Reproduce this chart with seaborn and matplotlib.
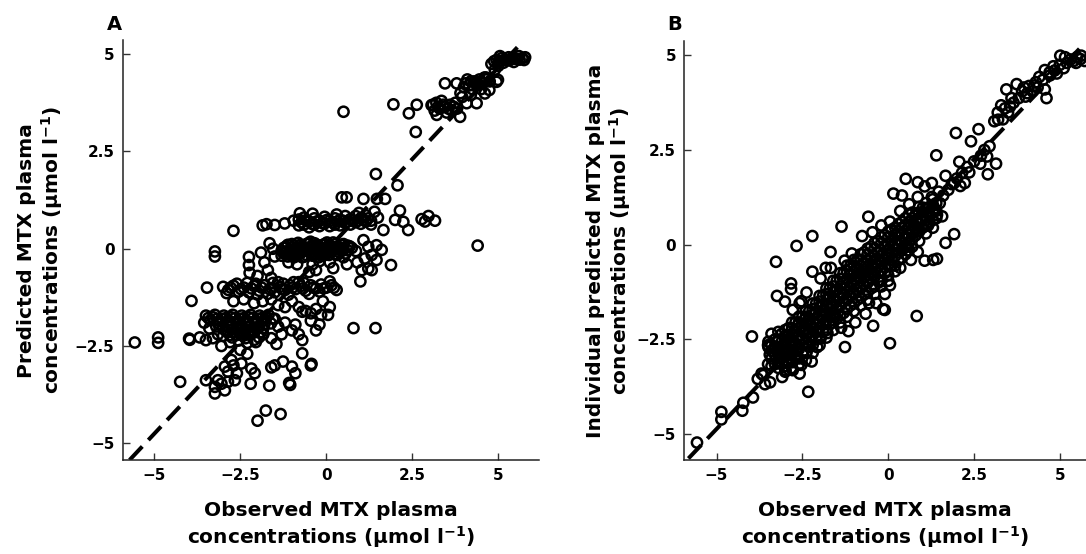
"""
Observed vs predicted MTX plasma concentrations (panels A and B).
"""

import numpy as np
import pandas as pd
import matplotlib
matplotlib.use("Agg")
import matplotlib.pyplot as plt
import seaborn as sns

# ── Data ────────────────────────────────────────────────────────────────────
TICKS = [-5, -2.5, 0, 2.5, 5]
TICK_LABELS = ["\u22125", "\u22122.5", "0", "2.5", "5"]

# panel A: population predictions
A_SCATTER = [(-5.57, -2.41), (-4.89, -2.28), (-4.89, -2.42), (-4.25, -3.42), (-3.99, -2.31),
             (-3.92, -1.34), (-3.47, -1.00), (-3.24, -0.07), (-3.24, -0.20), (-2.70, 0.46),
             (-2.00, -4.42), (-1.76, -4.16), (-1.33, -4.25), (-1.66, -3.52), (-1.08, -3.45),
             (-0.70, -2.69), (-0.43, -2.96), (0.79, -2.04), (1.43, -2.04), (0.50, 3.52),
             (1.95, 3.71), (2.40, 3.48), (2.63, 3.70), (2.60, 3.00), (1.44, 1.92),
             (2.07, 1.63), (4.40, 0.08), (1.88, -0.42), (0.99, -0.84)]
A_MID_RIGHT = [(0.45, 1.32), (0.59, 1.32), (1.08, 1.28), (1.47, 1.28), (1.71, 1.28),
               (2.14, 0.98), (2.00, 0.74), (2.24, 0.69), (2.38, 0.48), (1.66, 0.48),
               (2.77, 0.76), (2.97, 0.84), (3.16, 0.72), (2.87, 0.70), (1.50, 0.80), (1.40, 0.95)]
A_BAND_07 = [(-1.74, 0.63), (-1.50, 0.61), (-1.21, 0.65), (-0.77, 0.91), (-0.95, 0.72), (-1.85, 0.60),
             (-0.80, 0.60), (-0.80, 0.75), (-0.65, 0.62), (-0.65, 0.80), (-0.50, 0.55), (-0.50, 0.70),
             (-0.35, 0.62), (-0.35, 0.78), (-0.20, 0.58), (-0.20, 0.72), (-0.05, 0.65), (-0.05, 0.82),
             (0.10, 0.58), (0.10, 0.72), (0.25, 0.62), (0.25, 0.78), (0.40, 0.60), (0.40, 0.74),
             (0.55, 0.66), (0.55, 0.84), (0.70, 0.62), (0.70, 0.76), (0.85, 0.68), (0.85, 0.84),
             (1.00, 0.64), (1.00, 0.78), (1.15, 0.70), (1.15, 0.86), (1.30, 0.72), (1.30, 0.62),
             (0.95, 0.92), (0.30, 0.88), (-0.40, 0.90)]
A_FILL_07 = [(-0.72, 0.68), (-0.58, 0.72), (-0.42, 0.64), (-0.28, 0.70), (-0.12, 0.66), (0.02, 0.74),
             (0.18, 0.68), (0.32, 0.70), (0.48, 0.72), (0.62, 0.70), (0.78, 0.72), (0.92, 0.72),
             (1.08, 0.74), (1.22, 0.78)]
A_BAND_00 = [(-1.30, -0.05), (-1.30, -0.18), (-1.18, 0.05), (-1.18, -0.10), (-1.06, -0.02),
             (-1.06, -0.16), (-0.94, 0.08), (-0.94, -0.08), (-0.94, -0.22), (-0.82, 0.00),
             (-0.82, 0.15), (-0.82, -0.14), (-0.70, 0.06), (-0.70, -0.08), (-0.70, -0.22),
             (-0.58, 0.12), (-0.58, -0.02), (-0.58, -0.16), (-0.46, 0.05), (-0.46, -0.10),
             (-0.46, 0.18), (-0.34, 0.00), (-0.34, -0.14), (-0.34, 0.14), (-0.22, 0.06),
             (-0.22, -0.08), (-0.22, -0.22), (-0.10, 0.10), (-0.10, -0.04), (-0.10, -0.18),
             (0.02, 0.02), (0.02, -0.12), (0.02, 0.16), (0.14, 0.06), (0.14, -0.08),
             (0.26, 0.00), (0.26, -0.14), (0.26, 0.12), (0.38, 0.04), (0.38, -0.10),
             (0.50, 0.00), (0.50, 0.12), (0.62, -0.04), (0.62, 0.08), (0.74, 0.02), (0.86, -0.06),
             (1.08, 0.22), (1.22, 0.05), (1.46, 0.09), (1.61, -0.03), (1.32, -0.16), (1.46, -0.29),
             (1.12, -0.25), (1.03, -0.55), (1.22, -0.51), (1.32, -0.55), (0.90, -0.35), (0.60, -0.40),
             (0.50, -0.22), (-2.25, -0.21), (-2.25, -0.42), (-2.23, -0.62), (-1.65, 0.14),
             (-1.90, -0.10), (-1.55, 0.00), (-1.50, -0.20), (-1.80, -0.35), (-2.00, -0.70),
             (-1.70, -0.55), (-1.60, -0.75), (-2.05, -0.90), (-0.40, -0.40), (-0.30, -0.55),
             (-0.20, -0.32), (-0.50, -0.60), (0.10, -0.35), (0.20, -0.50), (-0.85, -0.40), (-1.10, -0.35)]
A_FILL_00 = [(-1.24, -0.12), (-1.24, 0.02), (-1.12, -0.20), (-1.12, 0.10), (-1.00, -0.06), (-1.00, 0.12),
             (-0.88, -0.18), (-0.88, 0.02), (-0.76, -0.12), (-0.76, 0.10), (-0.64, -0.20), (-0.64, 0.02),
             (-0.52, -0.06), (-0.52, 0.14), (-0.40, -0.18), (-0.40, 0.06), (-0.28, -0.06), (-0.28, 0.10),
             (-0.16, -0.14), (-0.16, 0.02), (-0.04, -0.08), (-0.04, 0.12), (0.08, -0.16), (0.08, 0.10),
             (0.20, -0.04), (0.20, 0.16), (0.32, -0.16), (0.32, 0.06), (0.44, -0.06), (0.44, 0.10),
             (0.56, -0.12), (0.68, 0.06)]
A_BAND_10 = [(-3.00, -0.98), (-2.85, -1.06), (-2.70, -0.95), (-2.55, -1.10), (-2.40, -1.00),
             (-2.25, -1.12), (-2.10, -0.96), (-1.95, -1.08), (-1.80, -0.94), (-1.65, -1.04),
             (-1.50, -1.12), (-1.35, -0.98), (-1.20, -1.06), (-1.05, -0.94), (-0.90, -1.04),
             (-0.75, -0.96), (-0.60, -1.08), (-0.45, -0.94), (-0.30, -1.02), (-0.15, -0.92),
             (0.00, -1.00), (0.15, -0.94), (0.30, -1.06), (-2.90, -1.14), (-2.60, -0.90),
             (-2.30, -0.88), (-2.00, -1.18), (-1.70, -1.16), (-1.40, -0.86), (-1.10, -1.18),
             (-0.80, -0.86), (-0.50, -1.16), (-0.20, -1.10), (0.10, -0.84), (-1.55, -0.88),
             (-1.25, -0.90), (-0.95, -0.86), (-0.65, -0.88)]
A_FILL_10 = [(-2.78, -1.00), (-2.48, -1.04), (-2.18, -1.02), (-1.88, -1.00), (-1.58, -1.02),
             (-1.28, -1.04), (-0.98, -1.00), (-0.68, -1.02), (-0.38, -1.00), (-0.08, -1.02), (0.22, -1.00)]
A_BAND_15 = [(-1.60, -1.30), (-1.40, -1.45), (-1.20, -1.50), (-1.00, -1.35), (-0.80, -1.50),
             (-0.70, -1.62), (-0.60, -1.60), (-0.45, -1.66), (-0.30, -1.55), (-0.15, -1.70),
             (0.05, -1.70), (-0.20, -1.95), (-0.30, -2.10), (-0.45, -1.85), (0.10, -1.50),
             (-0.10, -1.35), (-2.40, -1.30), (-2.10, -1.40), (-1.85, -1.35), (-2.70, -1.35)]
A_BAND_20 = [(-3.50, -1.72), (-3.37, -1.84), (-3.24, -1.70), (-3.11, -1.86), (-2.98, -1.72),
             (-2.85, -1.84), (-2.72, -1.70), (-2.59, -1.86), (-2.46, -1.72), (-2.33, -1.84),
             (-2.20, -1.70), (-2.07, -1.86), (-1.94, -1.72), (-1.81, -1.84), (-1.68, -1.70),
             (-1.55, -1.80), (-3.43, -1.78), (-3.17, -1.80), (-2.91, -1.78), (-2.65, -1.78),
             (-2.39, -1.78), (-2.13, -1.78), (-1.87, -1.78), (-1.61, -1.92),
             (-3.00, -2.00), (-2.87, -2.14), (-2.74, -2.28), (-2.61, -2.02), (-2.48, -2.16),
             (-2.35, -2.30), (-2.22, -2.00), (-2.09, -2.14), (-1.96, -2.28), (-1.83, -2.04),
             (-3.00, -2.24), (-2.87, -1.98), (-2.74, -2.08), (-2.61, -2.22), (-2.48, -1.96),
             (-2.35, -2.08), (-2.22, -2.22), (-2.09, -2.34), (-1.96, -2.02), (-1.83, -2.20),
             (-2.55, -2.36), (-2.80, -2.40), (-2.30, -2.42), (-2.05, -2.40),
             (-3.97, -2.34), (-3.68, -2.28), (-3.50, -2.35), (-3.30, -2.30), (-3.15, -2.20),
             (-3.55, -1.90), (-3.40, -2.05), (-3.20, -2.00), (-1.50, -1.80), (-1.40, -2.00),
             (-1.30, -2.20), (-1.20, -1.90), (-1.00, -2.10), (-0.80, -2.20), (-0.70, -2.35),
             (-0.90, -1.95), (-1.60, -2.30), (-1.45, -2.45)]
A_FILL_20 = [(-3.30, -1.76), (-3.04, -1.80), (-2.78, -1.76), (-2.52, -1.80), (-2.26, -1.76),
             (-2.00, -1.80), (-1.74, -1.76), (-2.94, -2.10), (-2.68, -2.14), (-2.42, -2.24),
             (-2.16, -2.08), (-1.90, -2.14), (-2.80, -2.22), (-2.55, -2.06), (-2.28, -2.16),
             (-3.10, -1.94), (-2.84, -1.92), (-2.58, -1.94), (-2.32, -1.92), (-2.06, -1.94),
             (-1.80, -1.94)]
A_LOW = [(-2.76, -2.86), (-2.95, -3.03), (-2.86, -3.16), (-2.47, -2.95), (-2.18, -3.08),
         (-2.08, -3.20), (-3.15, -3.38), (-3.24, -3.55), (-3.05, -3.47), (-2.86, -3.42),
         (-2.66, -3.38), (-2.95, -3.64), (-3.24, -3.72), (-3.50, -3.38), (-2.20, -3.47),
         (-1.50, -3.00), (-1.26, -2.90), (-1.00, -3.03), (-0.90, -3.20), (-1.05, -3.50),
         (-0.45, -3.00), (-1.60, -3.05), (-2.50, -2.60), (-2.30, -2.70), (-3.05, -2.50),
         (-2.70, -3.00), (-2.60, -3.20)]
A_TOP = [(3.15, 3.55), (3.30, 3.60), (3.45, 3.65), (3.60, 3.70), (3.75, 3.75), (3.20, 3.75),
         (3.35, 3.80), (3.50, 3.50), (3.65, 3.55), (3.80, 3.60), (3.10, 3.70), (3.89, 3.39),
         (4.37, 3.74), (4.08, 3.74), (4.61, 3.99), (4.95, 4.29), (3.79, 4.25), (3.45, 4.25),
         (3.06, 3.69), (3.21, 3.44), (3.90, 4.00), (4.00, 4.15), (4.15, 4.20), (4.30, 4.30),
         (4.45, 4.35), (4.60, 4.40), (4.75, 4.30), (4.10, 4.35), (4.25, 4.10), (4.40, 4.20),
         (4.55, 4.25), (3.95, 3.90), (4.20, 3.95), (4.50, 4.10), (4.64, 4.40), (4.99, 4.34),
         (4.74, 4.08), (4.80, 4.75), (4.95, 4.85), (5.10, 4.90), (5.25, 4.85), (5.40, 4.90),
         (5.55, 4.88), (5.70, 4.90), (5.00, 4.70), (5.15, 4.78), (5.30, 4.92), (5.45, 4.80),
         (5.60, 4.95), (5.75, 4.85), (4.90, 4.60), (5.05, 4.95)]
A_FILL_TOP = [(3.25, 3.65), (3.40, 3.70), (3.55, 3.60), (3.70, 3.65), (4.05, 4.25), (4.20, 4.30),
              (4.35, 4.25), (4.50, 4.30), (4.65, 4.35), (4.88, 4.82), (5.02, 4.82), (5.18, 4.86),
              (5.32, 4.84), (5.48, 4.88), (5.62, 4.86), (5.78, 4.92)]

# panel B: individual predictions
B_SCATTER = [(-5.57, -5.22), (-4.86, -4.41), (-4.86, -4.61), (-4.25, -4.38), (-4.22, -4.17),
             (-3.94, -4.03), (-3.97, -2.42), (-3.69, -3.40), (-3.44, -3.63), (-3.64, -3.44),
             (-3.27, -0.45), (-3.24, -1.35), (-3.01, -1.50), (-2.83, -1.02), (-2.83, -1.17),
             (-2.67, -0.03), (-2.53, -1.49), (-2.21, 0.23), (-2.21, -0.71), (-2.33, -3.88),
             (-2.23, -3.08), (-1.68, -0.19), (-1.36, 0.48), (-0.58, 0.74), (-1.26, -2.70),
             (-0.44, -2.14), (0.05, -2.60), (0.83, -1.88), (-0.15, -1.70), (0.51, 1.74),
             (0.86, 1.65), (0.15, 1.35), (0.40, 1.30), (1.40, 2.36), (1.97, 2.95),
             (2.41, 2.73), (2.63, 3.05), (2.07, 2.19), (2.36, 1.91), (2.90, 1.86),
             (3.14, 2.14), (2.88, 2.33), (2.68, 2.14), (1.92, 0.28), (1.67, 0.05),
             (1.42, -0.37), (1.31, -0.40), (1.67, 1.82), (2.23, 1.63), (1.92, 1.63)]
B_EDGE = [(-3.31, -2.70), (-2.94, -2.84), (-2.78, -3.31), (-2.53, -3.17), (-2.99, -3.31),
          (-3.19, -3.12), (-3.09, -3.49), (-2.58, -3.40), (-3.80, -3.54), (-3.59, -3.68),
          (-1.87, -1.72), (-1.57, -1.91), (-1.37, -2.19), (-1.16, -2.28), (-0.96, -2.05),
          (-0.66, -1.82), (-0.35, -1.54), (-0.10, -1.30), (-0.56, -1.54), (-0.25, -0.98),
          (-1.67, -1.63), (-1.77, -2.33), (-1.97, -2.47), (-2.07, -2.70), (-2.38, -2.84),
          (-2.68, -2.94), (-2.78, -1.72), (-2.58, -1.54), (-2.38, -1.26), (-1.97, -0.89),
          (-1.67, -0.61), (-1.82, -0.61), (-1.27, -0.42), (-1.06, -0.23), (-0.76, 0.23),
          (-0.46, 0.33), (-0.20, 0.51), (0.05, 0.61), (0.35, 0.89), (0.61, 1.07),
          (0.86, 1.26), (1.06, 1.54), (1.27, 1.63), (1.47, 1.40), (1.27, 1.26),
          (1.01, 0.98), (1.42, 0.79), (1.57, 0.75), (1.16, 0.51), (0.86, 0.42),
          (0.56, -0.05), (0.86, -0.19), (1.06, -0.42), (0.35, -0.61), (0.66, -0.40),
          (0.05, -1.07), (-0.10, -1.72), (-3.49, -2.56), (-3.49, -2.70)]
B_CORE = [(-3.4, -3.0), (-3.4, -2.8), (-3.4, -2.65),
          (-3.2, -3.05), (-3.2, -2.85), (-3.2, -2.7), (-3.2, -2.5),
          (-3.0, -2.95), (-3.0, -2.8), (-3.0, -2.6), (-3.0, -2.4), (-3.0, -2.25),
          (-2.8, -2.9), (-2.8, -2.7), (-2.8, -2.5), (-2.8, -2.35), (-2.8, -2.2),
          (-2.6, -2.75), (-2.6, -2.55), (-2.6, -2.4), (-2.6, -2.2), (-2.6, -2.05),
          (-2.4, -2.6), (-2.4, -2.4), (-2.4, -2.25), (-2.4, -2.1), (-2.4, -1.9),
          (-2.2, -2.4), (-2.2, -2.2), (-2.2, -2.05), (-2.2, -1.85), (-2.2, -1.7),
          (-2.0, -2.2), (-2.0, -2.0), (-2.0, -1.85), (-2.0, -1.65), (-2.0, -1.5),
          (-1.8, -2.0), (-1.8, -1.8), (-1.8, -1.6), (-1.8, -1.45), (-1.8, -1.3),
          (-1.6, -1.8), (-1.6, -1.6), (-1.6, -1.45), (-1.6, -1.25), (-1.6, -1.1),
          (-1.4, -1.6), (-1.4, -1.4), (-1.4, -1.25), (-1.4, -1.1), (-1.4, -0.9),
          (-1.2, -1.45), (-1.2, -1.25), (-1.2, -1.05), (-1.2, -0.9), (-1.2, -0.7),
          (-1.0, -1.3), (-1.0, -1.1), (-1.0, -0.9), (-1.0, -0.7), (-1.0, -0.55),
          (-0.8, -1.15), (-0.8, -0.95), (-0.8, -0.75), (-0.8, -0.55), (-0.8, -0.4),
          (-0.6, -1.0), (-0.6, -0.8), (-0.6, -0.6), (-0.6, -0.4), (-0.6, -0.25),
          (-0.4, -0.85), (-0.4, -0.65), (-0.4, -0.45), (-0.4, -0.3), (-0.4, -0.1),
          (-0.2, -0.7), (-0.2, -0.5), (-0.2, -0.3), (-0.2, -0.15), (-0.2, 0.05),
          (0.0, -0.55), (0.0, -0.35), (0.0, -0.15), (0.0, 0.0), (0.0, 0.2),
          (0.2, -0.3), (0.2, -0.1), (0.2, 0.05), (0.2, 0.25),
          (0.4, -0.15), (0.4, 0.05), (0.4, 0.25), (0.4, 0.45),
          (0.6, 0.05), (0.6, 0.25), (0.6, 0.45), (0.6, 0.6),
          (0.8, 0.25), (0.8, 0.45), (0.8, 0.65), (0.8, 0.8),
          (1.0, 0.45), (1.0, 0.65), (1.0, 0.85),
          (1.2, 0.6), (1.2, 0.8), (1.2, 1.0),
          (1.4, 0.7), (1.4, 0.9), (1.4, 1.1)]
B_CORE_FILL = [(-3.3, -2.9), (-3.3, -2.7), (-3.1, -2.95), (-3.1, -2.75), (-3.1, -2.55),
               (-2.9, -2.85), (-2.9, -2.6), (-2.9, -2.4), (-2.7, -2.8), (-2.7, -2.6), (-2.7, -2.3),
               (-2.5, -2.65), (-2.5, -2.45), (-2.5, -2.15), (-2.3, -2.5), (-2.3, -2.3), (-2.3, -2.0),
               (-2.1, -2.3), (-2.1, -2.1), (-2.1, -1.8), (-1.9, -2.1), (-1.9, -1.9), (-1.9, -1.6),
               (-1.7, -1.9), (-1.7, -1.7), (-1.7, -1.4), (-1.5, -1.7), (-1.5, -1.5), (-1.5, -1.2),
               (-1.3, -1.5), (-1.3, -1.3), (-1.3, -1.0), (-1.1, -1.35), (-1.1, -1.15), (-1.1, -0.8),
               (-0.9, -1.2), (-0.9, -1.0), (-0.9, -0.65), (-0.7, -1.05), (-0.7, -0.85), (-0.7, -0.5),
               (-0.5, -0.9), (-0.5, -0.7), (-0.5, -0.35), (-0.3, -0.75), (-0.3, -0.55), (-0.3, -0.2),
               (-0.1, -0.6), (-0.1, -0.4), (-0.1, -0.05), (0.1, -0.4), (0.1, -0.2), (0.1, 0.1),
               (0.3, -0.2), (0.3, 0.0), (0.3, 0.35), (0.5, -0.05), (0.5, 0.15), (0.5, 0.5),
               (0.7, 0.15), (0.7, 0.35), (0.7, 0.7), (0.9, 0.35), (0.9, 0.55), (0.9, 0.85),
               (1.1, 0.5), (1.1, 0.75), (1.1, 0.95), (1.3, 0.65), (1.3, 0.85), (1.3, 1.05)]
B_WIDE = [(-3.5, -3.15), (-3.5, -2.65), (-3.3, -3.15), (-3.3, -2.5), (-3.1, -3.15), (-3.1, -2.35),
          (-2.9, -3.1), (-2.9, -2.2), (-2.7, -3.0), (-2.7, -2.05), (-2.5, -2.85), (-2.5, -1.9),
          (-2.3, -2.7), (-2.3, -1.75), (-2.1, -2.5), (-2.1, -1.55), (-1.9, -2.3), (-1.9, -1.35),
          (-1.7, -2.1), (-1.7, -1.15), (-1.5, -1.95), (-1.5, -0.95), (-1.3, -1.8), (-1.3, -0.75),
          (-1.1, -1.6), (-1.1, -0.55), (-0.9, -1.45), (-0.9, -0.4), (-0.7, -1.3), (-0.7, -0.2),
          (-0.5, -1.15), (-0.5, -0.05), (-0.3, -0.95), (-0.3, 0.1), (-0.1, -0.75), (-0.1, 0.25),
          (0.1, -0.55), (0.1, 0.4), (0.3, -0.4), (0.3, 0.55), (0.5, -0.25), (0.5, 0.7),
          (0.7, -0.05), (0.7, 0.85), (0.9, 0.1), (0.9, 1.0), (1.1, 0.3), (1.1, 1.1),
          (1.3, 0.45), (1.3, 1.2),
          (-3.45, -2.9), (-3.25, -2.8), (-3.05, -2.7), (-2.85, -2.55), (-2.65, -2.45),
          (-2.45, -2.3), (-2.25, -2.15), (-2.05, -1.95), (-1.85, -1.75), (-1.65, -1.55),
          (-1.45, -1.35), (-1.25, -1.15), (-1.05, -1.0), (-0.85, -0.85), (-0.65, -0.7),
          (-0.45, -0.55), (-0.25, -0.4), (-0.05, -0.25), (0.15, -0.05), (0.35, 0.1),
          (0.55, 0.3), (0.75, 0.5), (0.95, 0.7), (1.15, 0.85), (1.35, 0.95)]
B_SPREAD = [(-3.4, -3.2), (-3.4, -2.35), (-3.2, -3.25), (-3.2, -2.3), (-3.0, -3.2), (-3.0, -3.35),
            (-2.8, -3.1), (-2.8, -3.25), (-2.8, -2.05), (-2.6, -3.0), (-2.6, -3.15), (-2.6, -1.9),
            (-2.4, -2.85), (-2.4, -3.05), (-2.4, -1.75), (-2.2, -2.65), (-2.2, -2.85), (-2.2, -1.55),
            (-2.0, -2.45), (-2.0, -2.65), (-2.0, -1.35), (-1.8, -2.25), (-1.8, -2.45), (-1.8, -1.15),
            (-1.6, -2.05), (-1.6, -2.25), (-1.6, -0.95), (-1.4, -1.85), (-1.4, -2.05), (-1.4, -0.75),
            (-1.2, -1.7), (-1.2, -1.9), (-1.2, -0.55), (-1.0, -1.55), (-1.0, -1.75), (-1.0, -0.4),
            (-0.8, -1.4), (-0.8, -1.6), (-0.8, -0.25), (-0.6, -1.25), (-0.6, -1.45), (-0.6, -0.1),
            (-0.4, -1.1), (-0.4, -1.3), (-0.4, 0.05), (-0.2, -0.95), (-0.2, -1.1), (-0.2, 0.2),
            (0.0, -0.8), (0.0, -0.95), (0.0, 0.35), (0.2, -0.55), (0.2, -0.7), (0.2, 0.45),
            (0.4, -0.35), (0.4, 0.6), (0.6, -0.15), (0.6, 0.8)]
B_UPPER = [(1.50, 1.10), (1.60, 1.30), (1.75, 1.45), (1.85, 1.60), (2.00, 1.75), (2.15, 1.90),
           (2.30, 2.05), (2.50, 2.20), (2.70, 2.35), (2.80, 2.50), (2.95, 2.60), (2.10, 1.55),
           (3.09, 3.26), (3.19, 3.49), (3.29, 3.68), (3.44, 4.10), (3.59, 3.87), (3.74, 4.24),
           (3.90, 4.05), (4.00, 3.91), (4.10, 4.19), (4.30, 4.29), (4.40, 4.43), (4.61, 3.87),
           (4.56, 4.61), (4.71, 4.47), (4.81, 4.71), (5.01, 4.99), (5.11, 4.66), (5.31, 4.89),
           (5.47, 4.80), (5.62, 4.99), (5.72, 4.85), (4.91, 4.52), (4.20, 4.05), (3.80, 3.87),
           (3.49, 3.49), (3.34, 3.31), (4.56, 4.10), (3.65, 3.75), (3.95, 4.15), (4.25, 4.20),
           (4.50, 4.35), (4.70, 4.55), (4.85, 4.60), (5.00, 4.75), (5.20, 4.80), (5.40, 4.85),
           (5.60, 4.90), (3.55, 3.65), (4.05, 4.00), (4.35, 4.15), (5.15, 4.95), (5.50, 4.95),
           (3.20, 3.30), (3.40, 3.60)]

# dashed reference lines (end points as drawn)
LINE_A_X = [-5.72, 5.60]
LINE_A_Y = [-5.43, 5.22]
LINE_B_X = [-5.82, 5.62]
LINE_B_Y = [-5.64, 5.22]

XLABEL = "Observed MTX plasma\nconcentrations (\u00b5mol l$^{-1}$)"
YLABEL_A = "Predicted MTX plasma\nconcentrations (\u00b5mol l$^{-1}$)"
YLABEL_B = "Individual predicted MTX plasma\nconcentrations (\u00b5mol l$^{-1}$)"

# ── Style ───────────────────────────────────────────────────────────────────
sns.set_theme(style="ticks")
plt.rcParams["font.family"] = ["DejaVu Sans"]
plt.rcParams["font.weight"] = "bold"
plt.rcParams["mathtext.default"] = "bf"
plt.rcParams["axes.unicode_minus"] = True
for key in ("text.color", "axes.labelcolor", "xtick.color", "ytick.color"):
    plt.rcParams[key] = "black"


def draw_panel(ax, points, line_x, line_y, xlim, ylim, ylabel, ypad):
    df = pd.DataFrame(points, columns=["observed", "predicted"])
    sns.scatterplot(data=df, x="observed", y="predicted", ax=ax, marker="o", s=54,
                    facecolor="none", edgecolor="black", linewidth=1.8, legend=False)
    ax.plot(line_x, line_y, color="black", lw=2.9, dashes=(4.6, 2.2),
            solid_capstyle="butt", dash_capstyle="butt")

    ax.set_xlim(*xlim)
    ax.set_ylim(*ylim)
    ax.set_xticks(TICKS)
    ax.set_xticklabels(TICK_LABELS)
    ax.set_yticks(TICKS)
    ax.set_yticklabels(TICK_LABELS)
    ax.tick_params(direction="in", length=5, width=1.0, labelsize=11, pad=6,
                   color="#333333", labelcolor="black")
    for lab in ax.get_xticklabels() + ax.get_yticklabels():
        lab.set_fontweight("bold")

    sns.despine(ax=ax)
    for side in ("left", "bottom"):
        ax.spines[side].set_linewidth(1.1)
        ax.spines[side].set_color("#222222")

    ax.set_xlabel(XLABEL, fontsize=14.5, fontweight="bold", labelpad=13, linespacing=1.2)
    ax.set_ylabel(ylabel, fontsize=14.5, fontweight="bold", labelpad=ypad, linespacing=1.15)


fig = plt.figure(figsize=(10.86, 5.54), dpi=100)
ax_a = fig.add_axes([0.1130, 0.1697, 0.3832, 0.7578])
ax_b = fig.add_axes([0.6301, 0.1697, 0.3699, 0.7558])

pts_a = (A_SCATTER + A_MID_RIGHT + A_BAND_07 + A_FILL_07 + A_BAND_00 + A_FILL_00 + A_BAND_10
         + A_FILL_10 + A_BAND_15 + A_BAND_20 + A_FILL_20 + A_LOW + A_TOP + A_FILL_TOP)
pts_b = B_SCATTER + B_EDGE + B_CORE + B_CORE_FILL + B_WIDE + B_SPREAD + B_UPPER

draw_panel(ax_a, pts_a, LINE_A_X, LINE_A_Y, (-5.92, 6.18), (-5.43, 5.36), YLABEL_A, 7)
draw_panel(ax_b, pts_b, LINE_B_X, LINE_B_Y, (-5.94, 5.76), (-5.68, 5.37), YLABEL_B, 2)

fig.text(0.105, 0.956, "A", fontsize=14, fontweight="bold", ha="center", va="center")
fig.text(0.6215, 0.956, "B", fontsize=14, fontweight="bold", ha="center", va="center")

fig.savefig("out.png", dpi=100)
